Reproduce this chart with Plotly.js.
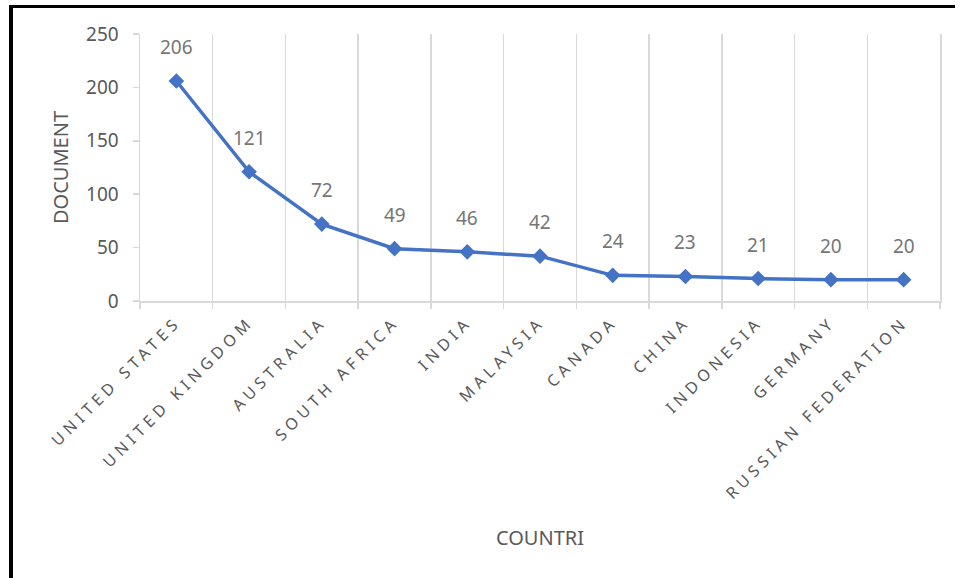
<!DOCTYPE html>
<html>
<head>
<meta charset="utf-8">
<script src="https://cdn.plot.ly/plotly-3.0.1.min.js"></script>
<style>
  html, body { margin: 0; padding: 0; background: #fff; }
  #wrap { position: relative; width: 960px; height: 578px; overflow: hidden; }
  #chart { position: absolute; left: 0; top: 0; width: 960px; height: 578px; }
  #frame { position: absolute; left: 9px; top: 5px; width: 946px; height: 600px;
           border-top: 3px solid #000; border-left: 4px solid #000; pointer-events: none; box-sizing: border-box; }
  .xtick text { letter-spacing: 4.6px; }
</style>
</head>
<body>
<div id="wrap">
  <div id="chart"></div>
  <div id="frame"></div>
</div>
<script>
const countries = ["UNITED STATES", "UNITED KINGDOM", "AUSTRALIA", "SOUTH AFRICA", "INDIA",
                   "MALAYSIA", "CANADA", "CHINA", "INDONESIA", "GERMANY", "RUSSIAN FEDERATION"];
const documents = [206, 121, 72, 49, 46, 42, 24, 23, 21, 20, 20];
const yTicks = [0, 50, 100, 150, 200, 250];

const trace = {
  type: "scatter",
  mode: "lines+markers",
  x: countries,
  y: documents,
  line: { color: "#4472C4", width: 3.5 },
  marker: { symbol: "diamond", size: 12, color: "#4472C4" },
  hoverinfo: "x+y",
  cliponaxis: false
};

const annotations = countries.map((c, i) => ({
  x: c, y: documents[i], xref: "x", yref: "y",
  text: String(documents[i]), showarrow: false, yshift: 34,
  font: { family: "Noto Sans, sans-serif", size: 19, color: "#767676" }
}));

const layout = {
  width: 960, height: 578,
  margin: { l: 140, r: 20, t: 34, b: 277 },
  paper_bgcolor: "#fff", plot_bgcolor: "#fff",
  showlegend: false,
  font: { family: "Noto Sans, sans-serif", color: "#595959" },
  xaxis: {
    type: "category",
    range: [-0.5, countries.length - 0.5],
    tickson: "boundaries",
    ticks: "outside", ticklen: 6, tickcolor: "#d9d9d9", tickwidth: 1.5,
    ticklabelstandoff: 4,
    showgrid: true, gridcolor: "#d9d9d9", gridwidth: 1.5,
    showline: true, linecolor: "#d9d9d9", linewidth: 1.5,
    tickangle: -45,
    tickfont: { family: "Noto Sans, sans-serif", size: 16, color: "#595959" },
    title: { text: "COUNTRI", standoff: 28, font: { family: "Noto Sans, sans-serif", size: 20, color: "#595959" } },
    zeroline: false, fixedrange: true
  },
  yaxis: {
    range: [0, 250],
    tickvals: yTicks,
    ticktext: yTicks.map(String),
    ticks: "outside", ticklen: 6, tickcolor: "#d9d9d9", tickwidth: 1.5,
    ticklabelstandoff: 10,
    showgrid: false,
    showline: true, mirror: true, linecolor: "#d9d9d9", linewidth: 1.5,
    tickfont: { family: "Noto Sans, sans-serif", size: 19, color: "#595959" },
    title: { text: "DOCUMENT", standoff: 12, font: { family: "Noto Sans, sans-serif", size: 20, color: "#595959" } },
    zeroline: false, fixedrange: true
  },
  annotations: annotations
};

Plotly.newPlot("chart", [trace], layout, { displayModeBar: false, staticPlot: true });
</script>
</body>
</html>
